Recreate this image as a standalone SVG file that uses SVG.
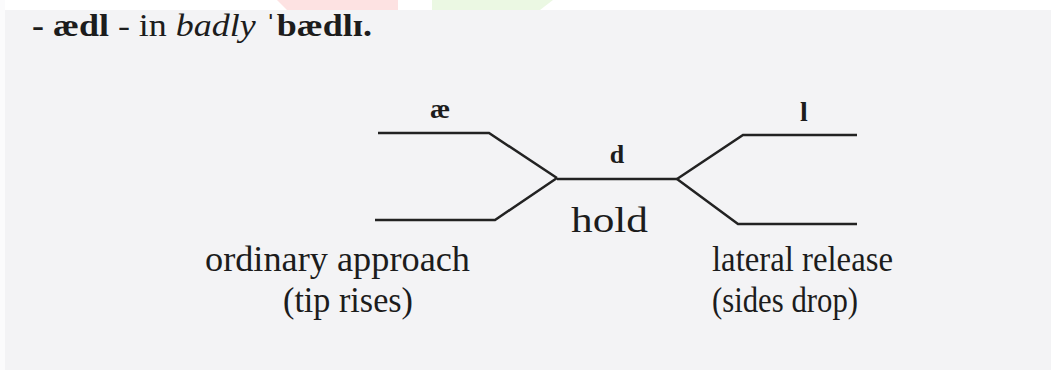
<svg xmlns="http://www.w3.org/2000/svg" width="1051" height="370" viewBox="0 0 1051 370">
<style>
.t{font-family:"Liberation Serif","Times New Roman",serif;fill:#1c1c1c}
.b{font-weight:bold}
.i{font-style:italic}
.ln{fill:none;stroke:#222;stroke-width:2.5;stroke-linejoin:miter}
</style>
<rect x="0" y="0" width="1051" height="370" fill="#f3f3f5"/>
<rect x="0" y="0" width="1051" height="10" fill="#ffffff"/>
<rect x="0" y="0" width="5" height="370" fill="#fbfbfc"/>
<polygon points="277,0 398,0 398,10 287,10" fill="#fde2e2"/>
<polygon points="432,0 553,0 540,10 432,10" fill="#ebf8e3"/>
<g id="title">
<text class="t" x="32" y="36" font-size="31" textLength="340" lengthAdjust="spacingAndGlyphs"><tspan class="b">- ædl</tspan> - in <tspan class="i">badly</tspan>  <tspan class="b">ˈbædlɪ.</tspan></text>
</g>
<g id="connectors">
<polyline class="ln" points="378,133 489,133 557,178"/>
<polyline class="ln" points="375,220 495,220 557,178"/>
<line class="ln" x1="557" y1="179" x2="677" y2="179"/>
<polyline class="ln" points="677,179 743,135 857,135"/>
<polyline class="ln" points="677,179 738,224 857,224"/>
</g>
<g id="node-ae"><text class="t b" x="440" y="118" font-size="28" text-anchor="middle">æ</text></g>
<g id="node-l"><text class="t b" x="804" y="121" font-size="28" text-anchor="middle">l</text></g>
<g id="node-d"><text class="t b" x="617" y="163" font-size="26" text-anchor="middle">d</text></g>
<g id="node-hold"><text class="t" x="571" y="232" font-size="36" textLength="77" lengthAdjust="spacingAndGlyphs">hold</text></g>
<g id="node-approach">
<text class="t" x="205" y="271" font-size="36" textLength="265" lengthAdjust="spacingAndGlyphs">ordinary approach</text>
<text class="t" x="283" y="312" font-size="36" textLength="130" lengthAdjust="spacingAndGlyphs">(tip rises)</text>
</g>
<g id="node-release">
<text class="t" x="712" y="271" font-size="36" textLength="181" lengthAdjust="spacingAndGlyphs">lateral release</text>
<text class="t" x="712" y="312" font-size="36" textLength="146" lengthAdjust="spacingAndGlyphs">(sides drop)</text>
</g>
</svg>
